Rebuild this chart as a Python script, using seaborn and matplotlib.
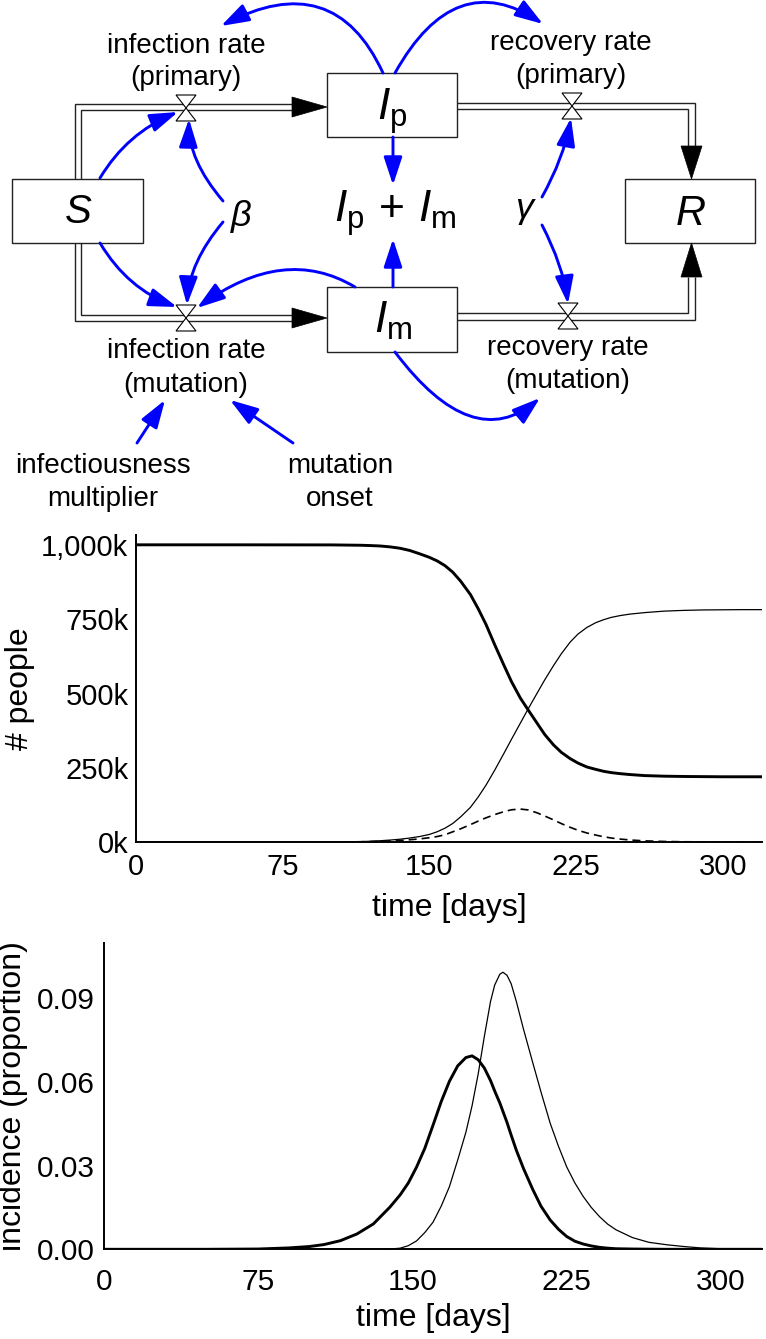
import numpy as np
import pandas as pd
import matplotlib
matplotlib.use("Agg")
import matplotlib.pyplot as plt
import seaborn as sns
from matplotlib.patches import FancyArrowPatch, Rectangle, Polygon
from matplotlib.path import Path

# ---------------- data ----------------
x_ticks = [0, 75, 150, 225, 300]
x_tick_labels = ["0", "75", "150", "225", "300"]

pop_ticks = [0, 250000, 500000, 750000, 1000000]
pop_tick_labels = ["0k", "250k", "500k", "750k", "1,000k"]

inc_ticks = [0.0, 0.03, 0.06, 0.09]
inc_tick_labels = ["0.00", "0.03", "0.06", "0.09"]

days_pop = [0, 50, 100, 115, 120, 125, 130, 135, 140, 145, 150, 154, 158, 162,
            166, 171, 175, 179, 183.5, 188, 192, 196.5, 200.5, 205, 209, 213.5,
            217.5, 222, 226, 230.5, 235, 239, 243, 247.5, 252.5, 260, 270, 280,
            290, 300, 310, 320]
# thousands of people
susceptible_k = [1000, 1000, 999.7, 998.5, 997.5, 996, 993, 988.5, 981, 970,
                 958, 946, 930, 908, 878, 833, 785, 732, 663, 597, 540, 485,
                 445, 401, 362, 327, 302, 281, 266, 253, 245, 238.5, 234,
                 230.5, 227.5, 224, 222, 221, 220.5, 220, 220, 220]
recovered_k = [0, 0, 0.5, 2, 3.2, 5, 7.2, 10, 14, 19, 26, 35, 47, 63, 85, 117,
               152, 192, 243, 297, 346, 400, 448, 500, 546, 594, 634, 673, 700,
               722, 738, 748, 756, 762, 767, 772, 777, 779.5, 781, 781.5, 782,
               782]
infected_k = [0, 0, 0.5, 1.5, 2.2, 3, 4.3, 6, 8.3, 11, 15, 19, 25, 35, 45, 59,
              71, 82, 93, 102.5, 109, 111.5, 108.5, 99, 88, 75, 62.5, 50, 40,
              31, 24, 18.5, 14, 10.5, 7.5, 4.5, 2.5, 1.5, 1, 0.5, 0.3, 0.2]

days_inc = [0, 50, 75, 90, 100, 107, 115, 123, 131, 139, 144, 148, 152, 156,
            160, 164, 168, 172, 176, 179, 182, 185, 188, 190, 192.5, 194, 196,
            198, 200.5, 204, 208.5, 212.5, 217, 221, 225, 229, 233, 237, 241,
            245, 249, 257, 265, 274, 282, 290, 300, 320]
incidence_primary = [0, 0, 0.0001, 0.0005, 0.001, 0.0017, 0.0031, 0.0055,
                     0.0091, 0.0151, 0.0195, 0.0238, 0.0295, 0.0362, 0.0445,
                     0.053, 0.0603, 0.0658, 0.0688, 0.0694, 0.068, 0.065,
                     0.0605, 0.0568, 0.0525, 0.0495, 0.0455, 0.041, 0.0356,
                     0.029, 0.0215, 0.0155, 0.0105, 0.0072, 0.0046, 0.0029,
                     0.0019, 0.0012, 0.0007, 0.0004, 0.0002, 0.0001, 0.00005,
                     0, 0, 0, 0, 0]
incidence_mutation = [0, 0, 0, 0, 0, 0, 0, 0, 0, 0.0001, 0.0004, 0.0013, 0.003,
                      0.006, 0.0097, 0.0155, 0.0225, 0.032, 0.042, 0.0515,
                      0.063, 0.0765, 0.089, 0.0948, 0.0987, 0.0994, 0.0983,
                      0.0953, 0.089, 0.079, 0.067, 0.0565, 0.0452, 0.037,
                      0.0296, 0.0238, 0.019, 0.015, 0.0117, 0.009, 0.007,
                      0.0042, 0.0025, 0.0016, 0.001, 0.0005, 0.0002, 0]

# ---------------- style ----------------
sns.set_style("white")
plt.rcParams["font.family"] = ["Liberation Sans", "DejaVu Sans"]
plt.rcParams["mathtext.fontset"] = "custom"
plt.rcParams["mathtext.rm"] = "Liberation Sans"
plt.rcParams["mathtext.it"] = "Liberation Sans:italic"
plt.rcParams["mathtext.bf"] = "Liberation Sans:bold"
for k in ["axes.edgecolor", "text.color", "axes.labelcolor", "xtick.color", "ytick.color"]:
    plt.rcParams[k] = "black"

W, H = 766, 1339
fig = plt.figure(figsize=(W / 100, H / 100), dpi=100)
fig.patch.set_facecolor("white")


def px_axes(l, t, r, b):
    return fig.add_axes([l / W, 1 - b / H, (r - l) / W, (b - t) / H])


# ---------------- diagram ----------------
DH = 530
axd = px_axes(0, 0, W, DH)
axd.set_xlim(0, W)
axd.set_ylim(DH, 0)
axd.axis("off")

BLUE = "#0000ff"

boxes = [(12, 179, 143, 243), (327, 73, 457, 137), (327, 287, 457, 352), (625, 179, 755, 243)]
for (x0, y0, x1, y1) in boxes:
    axd.add_patch(Rectangle((x0, y0), x1 - x0, y1 - y0, facecolor="white",
                            edgecolor="#222222", lw=1.0, zorder=3))


def pline(pts):
    xs, ys = zip(*pts)
    axd.plot(xs, ys, color="#222222", lw=1.0, solid_capstyle="butt",
             solid_joinstyle="miter", zorder=2)


pline([(75, 179), (75, 104), (292, 104)])
pline([(81, 179), (81, 110), (292, 110)])
pline([(75, 243), (75, 321), (292, 321)])
pline([(81, 243), (81, 315), (292, 315)])
pline([(457, 103), (695, 103), (695, 146)])
pline([(457, 109), (688, 109), (688, 146)])
pline([(457, 313), (688, 313), (688, 277)])
pline([(457, 320), (695, 320), (695, 277)])

for tri in [[(292, 97), (327, 107), (292, 117)],
            [(292, 308), (327, 318), (292, 328)],
            [(681, 146), (691.5, 179), (702, 146)],
            [(681, 277), (691.5, 243), (702, 277)]]:
    axd.add_patch(Polygon(tri, closed=True, facecolor="black", edgecolor="black", lw=0.5, zorder=4))

for (cx, cy) in [(186, 108), (186, 318), (572, 106), (568, 316)]:
    for s in (-1, 1):
        axd.add_patch(Polygon([(cx - 10, cy + s * 13), (cx + 10, cy + s * 13), (cx, cy)],
                              closed=True, facecolor="white", edgecolor="black",
                              lw=0.8, zorder=5))

connectors = [
    ((383, 73), (318, 8), (221, 26)),
    ((395, 73), (462, 7), (543, 24)),
    ((393, 137), None, (393, 185)),
    ((393, 287), None, (393, 239)),
    ((100, 178), (133, 139), (178, 112)),
    ((223, 201), (197, 160), (189, 119)),
    ((223, 222), (197, 263), (187, 305)),
    ((100, 243), (133, 282), (177, 307)),
    ((355, 287), (280, 271), (197, 308)),
    ((542, 197), (560, 158), (571, 118)),
    ((542, 225), (559, 265), (568, 304)),
    ((395, 352), (470, 415), (540, 398)),
    ((137, 443), None, (165, 400)),
    ((293, 443), None, (230, 400)),
]
for p0, mid, p1 in connectors:
    p0 = np.array(p0, float)
    p1 = np.array(p1, float)
    m = (p0 + p1) / 2 if mid is None else np.array(mid, float)
    c = 2 * m - (p0 + p1) / 2
    path = Path([p0, c, p1], [Path.MOVETO, Path.CURVE3, Path.CURVE3])
    axd.add_patch(FancyArrowPatch(path=path,
                                  arrowstyle="-|>,head_length=0.85,head_width=0.28",
                                  mutation_scale=20, color=BLUE, lw=2.1, zorder=6))

TXT = 20
diagram_labels = [
    ("infection rate", 186, 52.7), ("(primary)", 186, 85),
    ("infection rate", 186, 358), ("(mutation)", 186, 391.5),
    ("recovery rate", 571, 50), ("(primary)", 571, 83),
    ("recovery rate", 568, 355), ("(mutation)", 568, 388),
    ("infectiousness", 103, 473), ("multiplier", 103, 506),
    ("mutation", 340, 473), ("onset", 340, 506),
]
for s, x, y in diagram_labels:
    axd.text(x, y, s, fontsize=TXT, ha="center", va="baseline", zorder=7)

axd.text(78, 223, "S", fontsize=29, style="italic", ha="center", va="baseline", zorder=7)
axd.text(691, 225, "R", fontsize=30, style="italic", ha="center", va="baseline", zorder=7)
axd.text(392, 120, r"$I_{\mathrm{p}}$", fontsize=32, ha="center", va="baseline", zorder=7)
axd.text(393, 333, r"$I_{\mathrm{m}}$", fontsize=32, ha="center", va="baseline", zorder=7)
axd.text(395, 222, r"$I_{\mathrm{p}}\/+\/I_{\mathrm{m}}$", fontsize=32, ha="center", va="baseline", zorder=7)
axd.text(241, 226, "β", fontsize=26, style="italic", ha="center", va="baseline", zorder=7)
axd.text(524, 218, "γ", fontsize=26, style="italic", ha="center", va="baseline", zorder=7)

# ---------------- chart 1: people ----------------
df_pop = pd.DataFrame({
    "day": days_pop,
    "S": np.array(susceptible_k) * 1000,
    "R": np.array(recovered_k) * 1000,
    "I": np.array(infected_k) * 1000,
})
ax1 = px_axes(135.7, 535, 762, 842.2)
sns.lineplot(data=df_pop, x="day", y="S", ax=ax1, color="black", lw=2.1)
sns.lineplot(data=df_pop, x="day", y="R", ax=ax1, color="black", lw=0.9)
sns.lineplot(data=df_pop, x="day", y="I", ax=ax1, color="black", lw=1.2,
             linestyle=(0, (4.8, 3.0)))
ax1.set_xlim(0, 320)
ax1.set_ylim(0, 1033000)
ax1.set_xticks(x_ticks)
ax1.set_xticklabels(x_tick_labels)
ax1.set_yticks(pop_ticks)
ax1.set_yticklabels(pop_tick_labels)
ax1.tick_params(axis="both", direction="in", length=5.4, width=1.0, labelsize=21)
ax1.tick_params(axis="x", pad=7.5)
ax1.tick_params(axis="y", pad=5.3)
ax1.set_xlabel("time [days]", fontsize=23)
ax1.set_ylabel("# people", fontsize=23)
ax1.xaxis.set_label_coords(0.5, (842.2 - 908) / (842.2 - 535))
ax1.xaxis.label.set_va("center")
ax1.yaxis.set_label_coords((20 - 135.7) / (762 - 135.7), 0.5)
ax1.yaxis.label.set_va("center")

# ---------------- chart 2: incidence ----------------
df_inc = pd.DataFrame({
    "day": days_inc,
    "primary": incidence_primary,
    "mutation": incidence_mutation,
})
ax2 = px_axes(104, 942.7, 762, 1249.3)
sns.lineplot(data=df_inc, x="day", y="primary", ax=ax2, color="black", lw=2.1)
sns.lineplot(data=df_inc, x="day", y="mutation", ax=ax2, color="black", lw=0.9)
ax2.set_xlim(0, 320)
ax2.set_ylim(0, 0.11)
ax2.set_xticks(x_ticks)
ax2.set_xticklabels(x_tick_labels)
ax2.set_yticks(inc_ticks)
ax2.set_yticklabels(inc_tick_labels)
ax2.tick_params(axis="both", direction="in", length=5.4, width=1.0, labelsize=21.5)
ax2.tick_params(axis="x", pad=13.5)
ax2.tick_params(axis="y", pad=6.5)
ax2.set_xlabel("time [days]", fontsize=23)
ax2.set_ylabel("incidence (proportion)", fontsize=23)
ax2.xaxis.set_label_coords(0.5, (1249.3 - 1318) / (1249.3 - 942.7))
ax2.xaxis.label.set_va("center")
ax2.yaxis.set_label_coords((13 - 104) / (762 - 104), 0.5)
ax2.yaxis.label.set_va("center")

for ax in (ax1, ax2):
    for s in ("top", "right"):
        ax.spines[s].set_visible(False)
    for s in ("left", "bottom"):
        ax.spines[s].set_linewidth(1.4)
        ax.spines[s].set_color("black")
    ax.set_facecolor("white")

fig.savefig("out.png", dpi=100, facecolor="white")
